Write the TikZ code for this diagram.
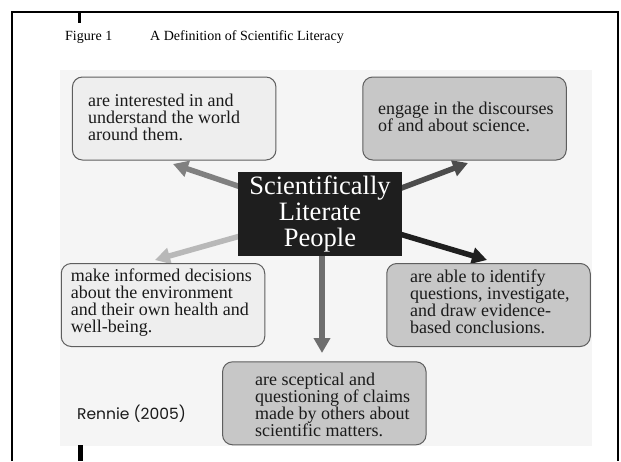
\documentclass[tikz,border=0pt]{standalone}
\usepackage{fontspec}
\setmainfont{Liberation Serif}
\newfontfamily\citefont{Poppins}
\usetikzlibrary{arrows.meta,backgrounds}
\definecolor{ink}{HTML}{1A1A1A}
\definecolor{panel}{HTML}{F5F5F5}
\definecolor{cardline}{HTML}{5E5E5E}
\definecolor{paleface}{HTML}{EEEEEE}
\definecolor{greyface}{HTML}{C7C7C7}
\definecolor{coreface}{HTML}{1E1E1E}
\begin{document}
\begin{tikzpicture}[x=1pt,y=-1pt,
  card/.style={draw=cardline, line width=1pt, rounded corners=10pt,
    minimum width=203.5pt, minimum height=83pt, inner sep=0pt},
  cardtext/.style={anchor=base west, align=left, inner sep=0pt, text=ink,
    font=\fontsize{18}{17}\selectfont},
  spoke/.style={line width=5.5pt, -{Triangle[length=15pt,width=16pt]}}]
  \path[use as bounding box] (0,0) rectangle (621,461);

  % frame and title
  \draw[line width=2pt] (12,461) -- (12,12) -- (618,12) -- (618,461);
  \fill (78,12) rectangle (81,23);
  \fill (78,445) rectangle (83,461);
  \node[anchor=base west, inner sep=0pt, font=\fontsize{14}{16}\selectfont] (fig) at (65,40) {Figure 1};
  \node[anchor=base west, inner sep=0pt, font=\fontsize{14}{16}\selectfont] (caption) at (150,40) {A Definition of Scientific Literacy};

  % centre and the five boxes (text placed by its last baseline)
  \node[fill=coreface, minimum width=164pt, minimum height=84pt, inner sep=0pt,
    align=center, text=white, font=\fontsize{26.5}{26.3}\selectfont] (core) at (320,214)
    {Scientifically\\Literate\\People};

  \node[card, fill=paleface] (interest) at (174.2,118.5) {};
  \node[cardtext] (interest-t) at (88,140.7) {are interested in and\\understand the world\\around them.};
  \node[card, fill=greyface] (discourse) at (464.5,118.5) {};
  \node[cardtext] (discourse-t) at (378,131) {engage in the discourses\\of and about science.};
  \node[card, fill=paleface] (decide) at (163,305) {};
  \node[cardtext] (decide-t) at (70.7,332.7) {make informed decisions\\about the environment\\and their own health and\\well-being.};
  \node[card, fill=greyface] (inquire) at (488.5,305) {};
  \node[cardtext] (inquire-t) at (410,333.7) {are able to identify\\questions, investigate,\\and draw evidence-\\based conclusions.};
  \node[card, fill=greyface] (sceptic) at (324.3,403.3) {};
  \node[cardtext] (sceptic-t) at (255,436) {are sceptical and\\questioning of claims\\made by others about\\scientific matters.};

  \node[anchor=base west, inner sep=0pt, text=ink, font=\citefont\fontsize{15.5}{17}\selectfont] (source) at (77,419) {Rennie (2005)};

  \coordinate (tipA) at (173,164);
  \coordinate (tipB) at (468,163);
  \coordinate (tipC) at (155,260);
  \coordinate (tipD) at (487,260);
  \coordinate (tipE) at (322,353);

  \begin{scope}[on background layer]
    \fill[white] (0,0) rectangle (621,461);
    \fill[panel] (60,70) rectangle (592,446);
    \draw[spoke, draw=black!50, fill=black!50] ([xshift=6pt,yshift=26pt]core.west) -- (tipA);
    \draw[spoke, draw=black!70, fill=black!70] ([xshift=-6pt,yshift=24pt]core.east) -- (tipB);
    \draw[spoke, draw=black!28, fill=black!28] ([xshift=6pt,yshift=-21pt]core.west) -- (tipC);
    \draw[spoke, draw=black!88, fill=black!88] ([xshift=-6pt,yshift=-19pt]core.east) -- (tipD);
    \draw[spoke, draw=black!57, fill=black!57] ([yshift=6pt]core.south -| tipE) -- (tipE);
  \end{scope}
\end{tikzpicture}
\end{document}
